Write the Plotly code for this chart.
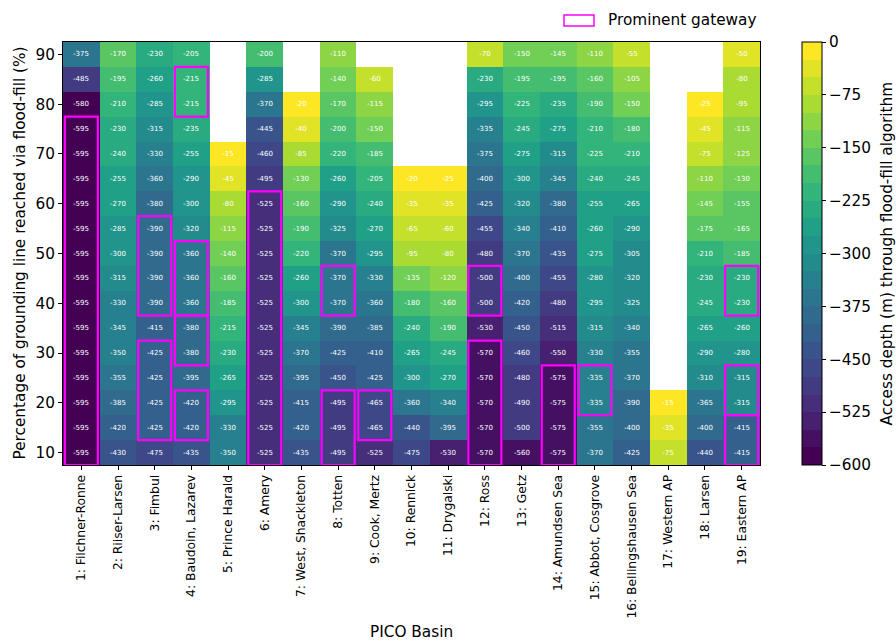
import plotly.graph_objects as go
from plotly.colors import sample_colorscale

# Flood-fill access depth (m) per PICO basin, listed from 90 % down to 10 %
# of grounding line reached; None = level never reached.
basins = [
    "1: Filchner-Ronne", "2: Riiser-Larsen", "3: Fimbul", "4: Baudoin, Lazarev",
    "5: Prince Harald", "6: Amery", "7: West, Shackleton", "8: Totten",
    "9: Cook, Mertz", "10: Rennick", "11: Drygalski", "12: Ross", "13: Getz",
    "14: Amundsen Sea", "15: Abbot, Cosgrove", "16: Bellingshausen Sea",
    "17: Western AP", "18: Larsen", "19: Eastern AP",
]
percent_levels = [90, 85, 80, 75, 70, 65, 60, 55, 50, 45, 40, 35, 30, 25, 20, 15, 10]

depth_filchner_ronne = [-375, -485, -580, -595, -595, -595, -595, -595, -595, -595, -595, -595, -595, -595, -595, -595, -595]
depth_riiser_larsen = [-170, -195, -210, -230, -240, -255, -270, -285, -300, -315, -330, -345, -350, -355, -385, -420, -430]
depth_fimbul = [-230, -260, -285, -315, -330, -360, -380, -390, -390, -390, -390, -415, -425, -425, -425, -425, -475]
depth_baudoin = [-205, -215, -215, -235, -255, -290, -300, -320, -360, -360, -360, -380, -380, -395, -420, -420, -435]
depth_prince_harald = [None, None, None, None, -15, -45, -80, -115, -140, -160, -185, -215, -230, -265, -295, -330, -350]
depth_amery = [-200, -285, -370, -445, -460, -495, -525, -525, -525, -525, -525, -525, -525, -525, -525, -525, -525]
depth_shackleton = [None, None, -20, -40, -85, -130, -160, -190, -220, -260, -300, -345, -370, -395, -415, -420, -435]
depth_totten = [-110, -140, -170, -200, -220, -260, -290, -325, -370, -370, -370, -390, -425, -450, -495, -495, -495]
depth_cook_mertz = [None, -60, -115, -150, -185, -205, -240, -270, -295, -330, -360, -385, -410, -425, -465, -465, -525]
depth_rennick = [None, None, None, None, None, -20, -35, -65, -95, -135, -180, -240, -265, -300, -360, -440, -475]
depth_drygalski = [None, None, None, None, None, -25, -35, -60, -80, -120, -160, -190, -245, -270, -340, -395, -530]
depth_ross = [-70, -230, -295, -335, -375, -400, -425, -455, -480, -500, -500, -530, -570, -570, -570, -570, -570]
depth_getz = [-150, -195, -225, -245, -275, -300, -320, -340, -370, -400, -420, -450, -460, -480, -490, -500, -560]
depth_amundsen = [-145, -195, -235, -275, -315, -345, -380, -410, -435, -455, -480, -515, -550, -575, -575, -575, -575]
depth_abbot = [-110, -160, -190, -210, -225, -240, -255, -260, -275, -280, -295, -315, -330, -335, -335, -355, -370]
depth_bellingshausen = [-55, -105, -150, -180, -210, -245, -265, -290, -305, -320, -325, -340, -355, -370, -390, -400, -425]
depth_western_ap = [None, None, None, None, None, None, None, None, None, None, None, None, None, None, -15, -35, -75]
depth_larsen = [None, None, -25, -45, -75, -110, -145, -175, -210, -230, -245, -265, -290, -310, -365, -400, -440]
depth_eastern_ap = [-50, -80, -95, -115, -125, -130, -155, -165, -185, -230, -230, -260, -280, -315, -315, -415, -415]

depth_columns = [
    depth_filchner_ronne, depth_riiser_larsen, depth_fimbul, depth_baudoin,
    depth_prince_harald, depth_amery, depth_shackleton, depth_totten,
    depth_cook_mertz, depth_rennick, depth_drygalski, depth_ross, depth_getz,
    depth_amundsen, depth_abbot, depth_bellingshausen, depth_western_ap,
    depth_larsen, depth_eastern_ap,
]

# Prominent gateways: (basin index, lowest %, highest %)
gateways = [
    (0, 10, 75), (2, 40, 55), (2, 15, 30), (3, 80, 85), (3, 40, 50),
    (3, 30, 35), (3, 15, 20), (5, 10, 60), (7, 40, 45), (7, 10, 20),
    (8, 15, 20), (11, 40, 45), (11, 10, 30), (13, 10, 25), (14, 20, 25),
    (18, 40, 45), (18, 20, 25), (18, 10, 15),
]

colorbar_ticks = [0, -75, -150, -225, -300, -375, -450, -525, -600]

# ---- build grid (rows ascending in %) ----
y_vals = percent_levels[::-1]
z = []
txt = []
for r in range(len(percent_levels)):
    src = len(percent_levels) - 1 - r
    row_z, row_t = [], []
    for col in depth_columns:
        v = col[src]
        row_z.append(v)
        row_t.append("" if v is None else str(v))
    z.append(row_z)
    txt.append(row_t)

# discrete viridis with 25 m bands
zmin, zmax, step = -600, 0, 25
nb = (zmax - zmin) // step
cols = sample_colorscale("Viridis", [i / (nb - 1) for i in range(nb)])
eps = 1e-7
cscale = []
for i, c in enumerate(cols):
    lo = 0.0 if i == 0 else i / nb - eps
    hi = 1.0 if i == nb - 1 else (i + 1) / nb - eps
    cscale.append([lo, c])
    cscale.append([hi, c])

FONT = "DejaVu Sans"
FS = 15.3
W, H = 896, 643
L, R, T, B = 63, 136, 42, 178
pw = W - L - R
ph = H - T - B


def px_x(p):
    return (p - L) / pw


def px_y(p):
    return 1 - (p - T) / ph


fig = go.Figure()
fig.add_trace(go.Heatmap(
    x=basins, y=y_vals, z=z, text=txt, texttemplate="%{text}",
    textfont=dict(family=FONT, size=7, color="white"),
    colorscale=cscale, zmin=zmin, zmax=zmax, hoverongaps=False,
    xgap=0, ygap=0,
    colorbar=dict(
        x=px_x(802), xanchor="left", xpad=0, y=0.5, yanchor="middle",
        ypad=0, len=1, lenmode="fraction", thickness=20,
        outlinewidth=1, outlinecolor="black",
        tickvals=colorbar_ticks,
        ticktext=[("\u2212" + str(-t)) if t < 0 else str(t) for t in colorbar_ticks],
        ticks="outside", ticklen=4, tickcolor="black",
        tickfont=dict(family=FONT, size=FS, color="black"),
    ),
))

shapes = []
for bi, lo, hi in gateways:
    shapes.append(dict(
        type="rect", xref="x", yref="y",
        x0=bi - 0.45, x1=bi + 0.45, y0=lo - 2.5, y1=hi + 2.5,
        line=dict(color="#ff00ff", width=2.2), fillcolor="rgba(0,0,0,0)",
    ))

# legend entry for gateway boxes
shapes.append(dict(type="rect", xref="paper", yref="paper",
                   x0=px_x(564), x1=px_x(594), y0=px_y(26), y1=px_y(15),
                   line=dict(color="#ff00ff", width=1.5), fillcolor="rgba(0,0,0,0)"))

annotations = [
    dict(text="Prominent gateway", xref="paper", yref="paper",
         x=px_x(606), y=px_y(20.5), xanchor="left", yanchor="middle",
         showarrow=False, font=dict(family=FONT, size=FS, color="black")),
    dict(text="PICO Basin", xref="paper", yref="paper",
         x=0.5, y=px_y(632), xanchor="center", yanchor="middle",
         showarrow=False, font=dict(family=FONT, size=FS, color="black")),
    dict(text="Percentage of grounding line reached via flood-fill (%)",
         xref="paper", yref="paper", x=px_x(19), y=0.5, textangle=-90,
         xanchor="center", yanchor="middle",
         showarrow=False, font=dict(family=FONT, size=FS, color="black")),
    dict(text="Access depth (m) through flood-fill algorithm",
         xref="paper", yref="paper", x=px_x(886), y=0.5, textangle=-90,
         xanchor="center", yanchor="middle",
         showarrow=False, font=dict(family=FONT, size=FS, color="black")),
]

fig.update_layout(
    width=W, height=H, autosize=False,
    margin=dict(l=L, r=R, t=T, b=B),
    paper_bgcolor="white", plot_bgcolor="white",
    font=dict(family=FONT, size=FS, color="black"),
    shapes=shapes,
    annotations=annotations,
    xaxis=dict(
        range=[-0.5, len(basins) - 0.5], tickangle=-90,
        tickfont=dict(family=FONT, size=12.3, color="black"),
        ticks="outside", ticklen=4, tickcolor="black",
        showline=True, mirror=True, linecolor="black", linewidth=1,
        showgrid=False, zeroline=False,
    ),
    yaxis=dict(
        range=[7.5, 92.5], tickvals=[10, 20, 30, 40, 50, 60, 70, 80, 90],
        tickfont=dict(family=FONT, size=FS, color="black"),
        ticks="outside", ticklen=4, tickcolor="black",
        showline=True, mirror=True, linecolor="black", linewidth=1,
        showgrid=False, zeroline=False,
    ),
)

fig.write_html("out.html")
